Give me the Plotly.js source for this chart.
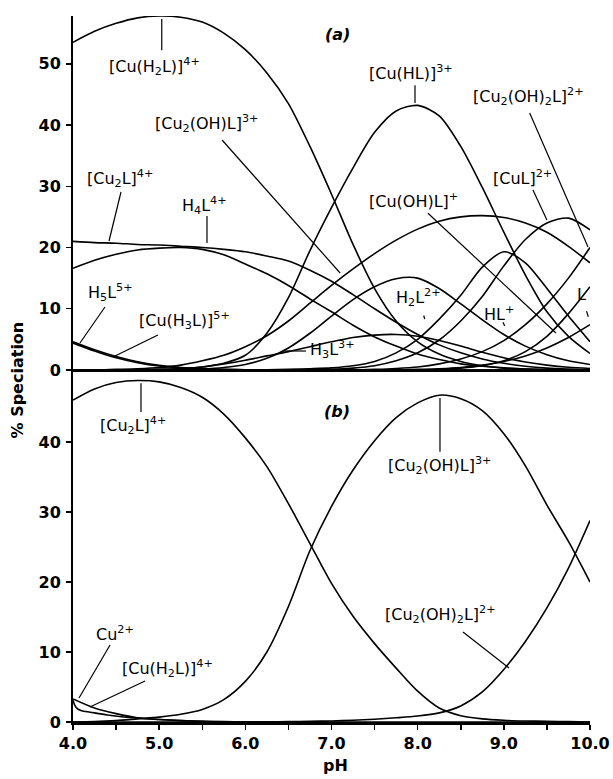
<!DOCTYPE html>
<html>
<head>
<meta charset="utf-8">
<script src="https://cdn.plot.ly/plotly-3.0.1.min.js"></script>
<style>html,body{margin:0;padding:0;background:#fff;}#chart{width:613px;height:779px;}</style>
</head>
<body>
<div id="chart"></div>
<script>
// pH grid
const pH = [4.0,4.25,4.5,4.75,5.0,5.25,5.5,5.75,6.0,6.25,6.5,6.75,7.0,7.25,7.5,7.75,8.0,8.25,8.5,8.75,9.0,9.25,9.5,9.75,10.0];

// Panel (a) species (% speciation)
const a_CuH2L   = [53.5,55.3,56.6,57.5,57.8,57.6,56.8,55.0,52.3,48.5,43.5,36.5,28.7,20.5,13.3,8.0,4.6,2.6,1.4,0.7,0.35,0.15,0.07,0.03,0.0];
const a_CuHL    = [0,0,0,0.05,0.1,0.2,0.5,1.1,2.4,6.0,11.8,19.5,26.5,33.0,38.8,42.3,43.2,41.5,36.5,29.8,22.5,15.5,9.5,5.5,2.7];
const a_Cu2L    = [21.0,20.8,20.7,20.5,20.4,20.2,20.0,19.7,19.3,18.6,17.8,16.3,14.5,12.3,10.0,7.8,5.8,4.1,2.8,1.8,1.1,0.6,0.3,0.15,0.05];
const a_H4L     = [16.6,17.9,18.9,19.6,19.9,20.0,19.7,18.8,17.3,15.7,13.8,11.6,9.5,7.3,5.4,3.9,2.6,1.7,1.0,0.6,0.3,0.15,0.05,0,0];
const a_H5L     = [4.6,3.3,2.2,1.35,0.75,0.4,0.2,0.1,0.05,0.02,0,0,0,0,0,0,0,0,0,0,0,0,0,0,0];
const a_CuH3L   = [4.4,3.1,2.0,1.2,0.65,0.35,0.18,0.08,0.03,0.01,0,0,0,0,0,0,0,0,0,0,0,0,0,0,0];
const a_Cu2OHL  = [0,0,0.1,0.2,0.4,0.8,1.5,2.4,3.8,5.6,8.0,10.9,13.8,16.5,19.0,21.2,23.0,24.3,25.0,25.2,24.9,24.0,22.5,20.2,17.5];
const a_H3L     = [0,0,0,0.05,0.1,0.25,0.5,1.0,1.6,2.3,3.0,3.8,4.6,5.3,5.7,5.8,5.5,4.8,3.9,2.9,2.0,1.3,0.8,0.45,0.25];
const a_H2L     = [0,0,0,0,0,0.05,0.15,0.4,0.9,1.9,3.6,6.0,8.8,11.5,13.6,14.9,15.0,13.3,10.8,8.2,5.8,3.9,2.5,1.5,0.9];
const a_HL      = [0,0,0,0,0,0,0,0,0,0.05,0.1,0.2,0.35,0.7,1.4,2.8,5.0,8.3,12.2,16.8,19.3,17.5,13.3,8.8,4.6];
const a_CuL     = [0,0,0,0,0,0,0,0,0,0,0.02,0.05,0.1,0.3,0.7,1.5,2.8,4.9,8.0,12.0,17.0,21.3,24.0,24.8,22.9];
const a_Cu2OH2L = [0,0,0,0,0,0,0,0,0,0,0,0,0,0,0.1,0.25,0.5,1.0,1.8,3.0,4.8,7.4,10.8,15.0,20.0];
const a_CuOHL   = [0,0,0,0,0,0,0,0,0,0,0,0,0,0,0,0,0.1,0.2,0.4,0.8,1.4,2.3,3.6,5.3,7.4];
const a_L       = [0,0,0,0,0,0,0,0,0,0,0,0,0,0,0,0,0,0.1,0.3,0.7,1.5,3.0,5.5,9.2,13.6];

// Panel (b) species
const b_Cu2L    = [46.0,47.6,48.5,48.8,48.6,47.8,46.4,44.0,40.6,36.5,31.2,25.5,19.8,15.1,11.2,7.7,4.4,2.0,0.9,0.45,0.25,0.15,0.1,0.05,0];
const b_Cu2OHL  = [0,0.05,0.2,0.45,0.7,1.1,1.8,3.2,5.8,10.0,16.5,24.5,30.8,36.0,40.2,43.5,45.6,46.7,46.2,44.5,41.2,36.6,31.0,25.8,20.0];
const b_Cu2OH2L = [0,0,0,0,0,0,0,0,0,0.03,0.05,0.1,0.15,0.25,0.4,0.6,0.85,1.3,2.3,4.3,7.5,11.5,16.3,22.0,28.8];
const b_CuH2L   = [3.3,2.0,1.2,0.6,0.35,0.2,0.1,0.05,0.02,0,0,0,0,0,0,0,0,0,0,0,0,0,0,0,0];
const b_Cu_pH   = [4.0,4.02,4.05,4.1,4.2,4.4,4.7,5.0,5.5,6.0];
const b_Cu      = [3.1,2.4,1.9,1.6,1.4,1.0,0.6,0.35,0.1,0];

const seriesA = [a_CuH2L,a_CuHL,a_Cu2L,a_H4L,a_H5L,a_CuH3L,a_Cu2OHL,a_H3L,a_H2L,a_HL,a_CuL,a_Cu2OH2L,a_CuOHL,a_L];
const seriesB = [b_Cu2L,b_Cu2OHL,b_Cu2OH2L,b_CuH2L];

const lineStyle = {color:'#000', width:1.6, shape:'spline', smoothing:0.8};
const traces = [];
seriesA.forEach(s => traces.push({x:pH, y:s, xaxis:'x', yaxis:'y', mode:'lines', line:lineStyle, hoverinfo:'skip', showlegend:false}));
seriesB.forEach(s => traces.push({x:pH, y:s, xaxis:'x2', yaxis:'y2', mode:'lines', line:lineStyle, hoverinfo:'skip', showlegend:false}));
traces.push({x:b_Cu_pH, y:b_Cu, xaxis:'x2', yaxis:'y2', mode:'lines', line:lineStyle, hoverinfo:'skip', showlegend:false});

const FONT = 'DejaVu Sans';
const lblFont = {family:FONT, size:16, color:'#000'};

// labels: [text, x, y, panel]
const labels = [
  ['[Cu(H<sub>2</sub>L)]<sup>4+</sup>', 4.95, 49.6, 'a'],
  ['[Cu<sub>2</sub>(OH)L]<sup>3+</sup>', 5.555, 40.2, 'a'],
  ['[Cu<sub>2</sub>L]<sup>4+</sup>', 4.545, 31.3, 'a'],
  ['H<sub>4</sub>L<sup>4+</sup>', 5.53, 26.9, 'a'],
  ['H<sub>5</sub>L<sup>5+</sup>', 4.43, 12.7, 'a'],
  ['[Cu(H<sub>3</sub>L)]<sup>5+</sup>', 5.29, 8.16, 'a'],
  ['[Cu(HL)]<sup>3+</sup>', 7.92, 48.65, 'a'],
  ['[Cu<sub>2</sub>(OH)<sub>2</sub>L]<sup>2+</sup>', 9.29, 44.6, 'a'],
  ['[CuL]<sup>2+</sup>', 9.22, 31.5, 'a'],
  ['[Cu(OH)L]<sup>+</sup>', 7.957, 27.6, 'a'],
  ['H<sub>2</sub>L<sup>2+</sup>', 8.015, 11.76, 'a'],
  ['HL<sup>+</sup>', 8.94, 9.3, 'a'],
  ['L', 9.907, 12.4, 'a'],
  ['H<sub>3</sub>L<sup>3+</sup>', 7.006, 3.27, 'a'],
  ['[Cu<sub>2</sub>L]<sup>4+</sup>', 4.696, 42.3, 'b'],
  ['[Cu<sub>2</sub>(OH)L]<sup>3+</sup>', 8.259, 36.7, 'b'],
  ['[Cu<sub>2</sub>(OH)<sub>2</sub>L]<sup>2+</sup>', 8.27, 15.3, 'b'],
  ['Cu<sup>2+</sup>', 4.487, 12.7, 'b'],
  ['[Cu(H<sub>2</sub>L)]<sup>4+</sup>', 5.10, 7.71, 'b']
];
// pointer lines: [x0,y0,x1,y1,panel]
const pointers = [
  [5.03,57.3,5.03,52.2,'a'],
  [5.73,37.55,7.10,15.84,'a'],
  [4.557,29.06,4.418,21.06,'a'],
  [5.555,25.14,5.555,20.73,'a'],
  [4.371,10.29,4.081,4.41,'a'],
  [4.986,5.71,4.464,2.12,'a'],
  [7.969,46.5,7.969,43.6,'a'],
  [9.30,41.96,9.977,20.08,'a'],
  [9.338,29.4,9.50,24.5,'a'],
  [8.12,25.6,9.605,6.04,'a'],
  [8.07,8.9,8.082,8.3,'a'],
  [8.99,7.8,9.01,7.2,'a'],
  [9.96,9.6,9.98,8.7,'a'],
  [6.437,3.1,6.704,3.1,'a'],
  [4.789,48.4,4.789,44.3,'b'],
  [8.259,46.3,8.259,38.6,'b'],
  [8.526,12.86,9.06,7.71,'b'],
  [4.43,11.0,4.07,3.43,'b'],
  [4.836,5.86,4.197,2.14,'b']
];

const annotations = labels.map(l => ({
  text:l[0], x:l[1], y:l[2], xref:l[3]==='a'?'x':'x2', yref:l[3]==='a'?'y':'y2',
  showarrow:false, font:lblFont, xanchor:'center', yanchor:'middle'
}));
annotations.push({text:'<b><i>(a)</i></b>', x:7.075, y:54.7, xref:'x', yref:'y', showarrow:false, font:lblFont, xanchor:'center', yanchor:'middle'});
annotations.push({text:'<b><i>(b)</i></b>', x:7.064, y:44.3, xref:'x2', yref:'y2', showarrow:false, font:lblFont, xanchor:'center', yanchor:'middle'});
annotations.push({text:'<b>% Speciation</b>', x:-0.108, y:0.484, xref:'paper', yref:'paper', textangle:-90, showarrow:false, xanchor:'center', yanchor:'middle', font:{family:FONT,size:16,color:'#000'}});
annotations.push({text:'<b>pH</b>', x:0.507, y:-0.062, xref:'paper', yref:'paper', showarrow:false, xanchor:'center', yanchor:'middle', font:{family:FONT,size:16,color:'#000'}});

const shapes = pointers.map(p => ({
  type:'line', x0:p[0], y0:p[1], x1:p[2], y1:p[3],
  xref:p[4]==='a'?'x':'x2', yref:p[4]==='a'?'y':'y2',
  line:{color:'#000', width:1.2}
}));

const tickFont = {family:FONT, size:16, color:'#000', weight:'bold'};
const split = 0.4986;
const layout = {
  width:613, height:779,
  margin:{l:73, r:23, t:16, b:57},
  paper_bgcolor:'#fff', plot_bgcolor:'#fff',
  showlegend:false,
  xaxis:{domain:[0,1], anchor:'y', range:[4,10], showticklabels:false, ticks:'', showline:true, linecolor:'#000', linewidth:2.5, showgrid:false, zeroline:false},
  yaxis:{domain:[split,1], anchor:'x', range:[0,57.8], tickmode:'array', tickvals:[0,10,20,30,40,50], ticks:'outside', ticklen:5, tickwidth:1.5, tickcolor:'#000', showline:true, linecolor:'#000', linewidth:2, showgrid:false, zeroline:false, tickfont:tickFont, ticklabelstandoff:2},
  xaxis2:{domain:[0,1], anchor:'y2', range:[4,10], tickmode:'linear', tick0:4, dtick:1, tickformat:'.1f', ticks:'outside', ticklen:5, tickwidth:1.5, tickcolor:'#000',
    minor:{tick0:4, dtick:0.5, ticks:'outside', ticklen:5, tickwidth:1.5, tickcolor:'#000'},
    showline:true, linecolor:'#000', linewidth:2.5, showgrid:false, zeroline:false, tickfont:tickFont, ticklabelstandoff:0},
  yaxis2:{domain:[0,split], anchor:'x2', range:[0,50.3], tickmode:'array', tickvals:[0,10,20,30,40], ticks:'outside', ticklen:5, tickwidth:1.5, tickcolor:'#000', showline:true, linecolor:'#000', linewidth:2, showgrid:false, zeroline:false, tickfont:tickFont, ticklabelstandoff:2},
  annotations:annotations,
  shapes:shapes
};
Plotly.newPlot('chart', traces, layout, {displayModeBar:false, staticPlot:true});
</script>
</body>
</html>
